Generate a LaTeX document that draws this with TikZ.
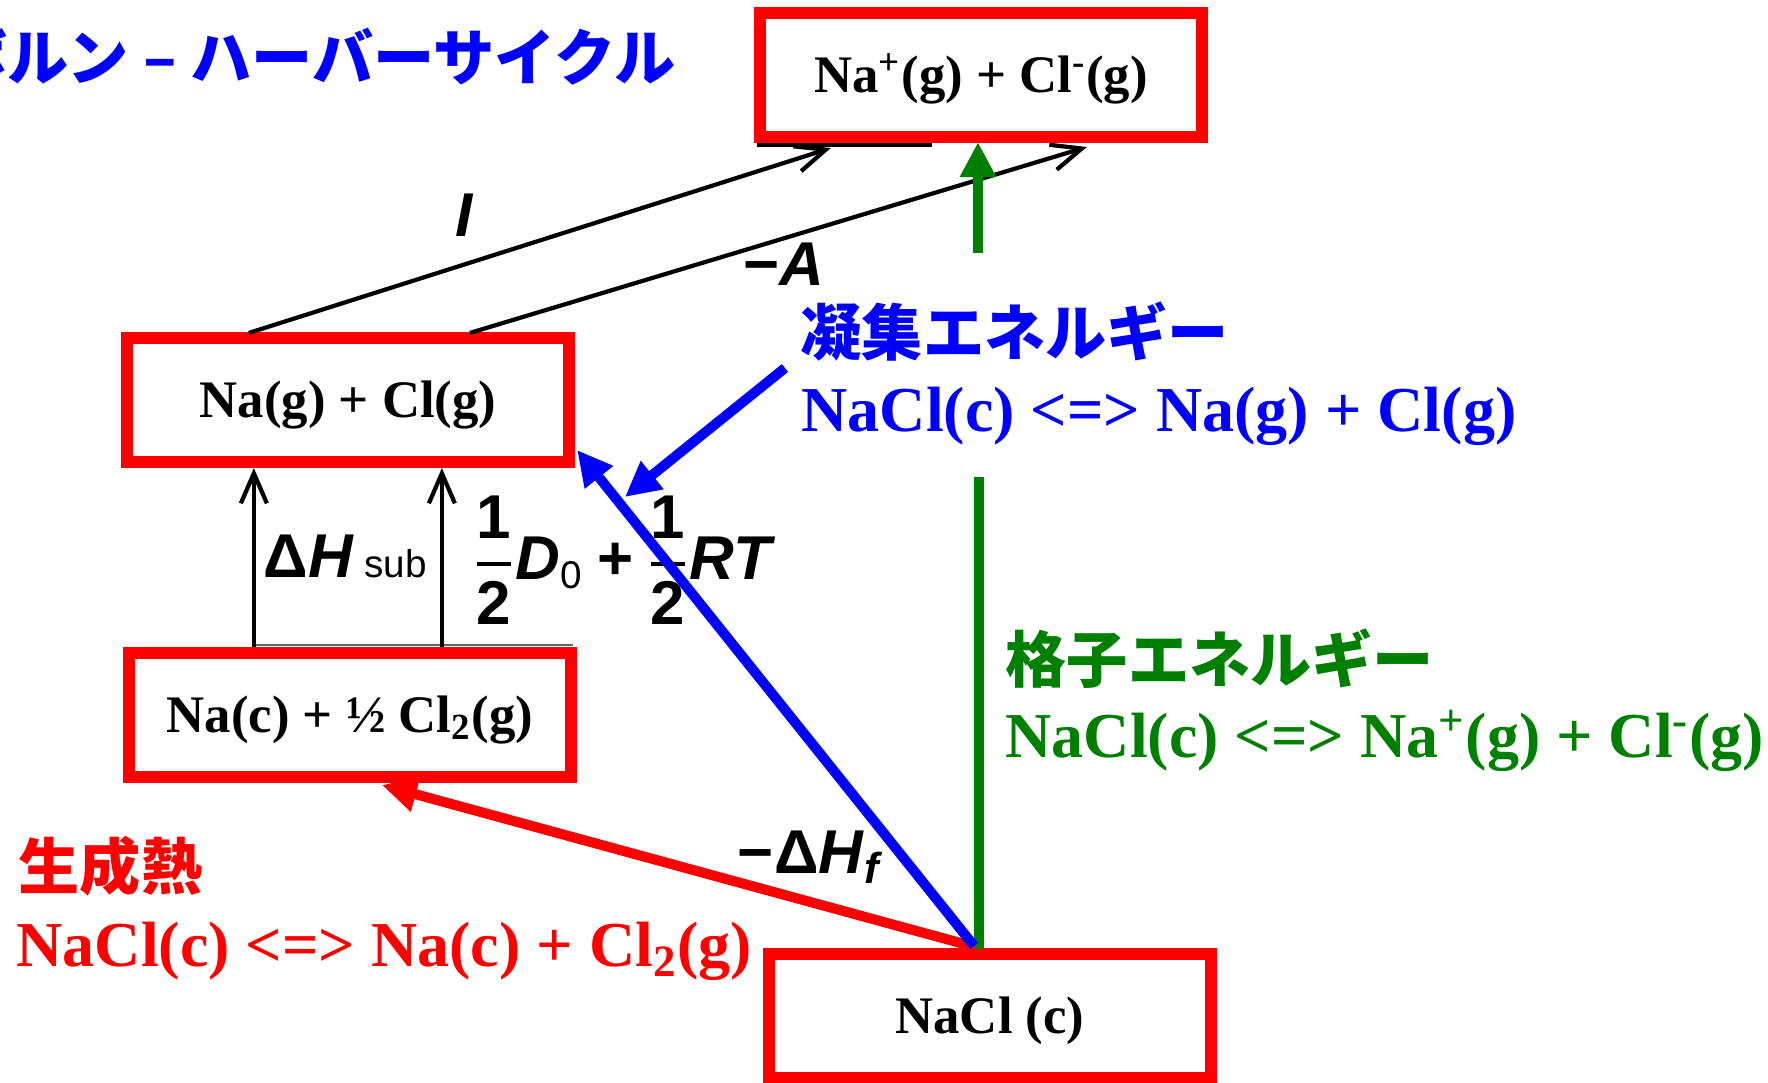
\documentclass[tikz,border=0pt]{standalone}
\usepackage{fontspec}
\setmainfont{Liberation Serif}
\newfontfamily\jpfont{Noto Sans CJK JP}
\newfontfamily\scanfont{Liberation Sans}
\usepackage{xcolor}
\usepackage{tikz}
\usetikzlibrary{arrows.meta, positioning, calc}
\definecolor{bhred}{RGB}{255,0,0}
\definecolor{bhblue}{RGB}{0,0,255}
\definecolor{bhgreen}{RGB}{0,128,0}
\newcommand{\halfof}{{\hbox{1}\above 1.4pt\hbox{2}}}
\tikzstyle{levelbox} = [rectangle, draw=bhred, fill=white, line width=3.4pt, minimum width=4.42cm, minimum height=1.24cm, inner sep=0pt, outer sep=0pt, font=\bfseries\fontsize{15}{18}\selectfont, text height=9.9pt, text depth=0pt]
\tikzstyle{jlabel} = [anchor=west, inner sep=0pt, font=\jpfont\bfseries\fontsize{17.4}{20}\selectfont]
\tikzstyle{formula} = [anchor=base west, inner sep=0pt, font=\bfseries\fontsize{18.2}{22}\selectfont]
\tikzstyle{scan} = [inner sep=0pt, font=\scanfont\bfseries\fontsize{17.6}{20}\selectfont]
\tikzstyle{scanarrow} = [line width=1.2pt, -{Straight Barb[length=3mm,width=2.6mm]}]
\tikzstyle{bigarrow} = [line width=2.85pt, -{Triangle[length=3.5mm,width=3.4mm]}]

\begin{document}
\begin{tikzpicture}[x=0.01cm, y=-0.01cm]
\useasboundingbox (0,0) rectangle (1768,1083);
\clip (0,0) rectangle (1768,1083);

\node (ion) [levelbox] at (981,75) {Na\textsuperscript{+}(g) + Cl\textsuperscript{-}(g)};
\node (gas) [levelbox] at (348,400) {Na(g) + Cl(g)};
\node (elem) [levelbox] at (350,715) {Na(c) + ½ Cl\textsubscript{2}(g)};
\node (salt) [levelbox] at (990,1016) {NaCl (c)};

\node (title) [jlabel, anchor=east, text=bhblue] at (676,57) {ボルン – ハーバーサイクル};
\node (cohname) [jlabel, text=bhblue] at (800,332) {凝集エネルギー};
\node (cohform) [formula, text=bhblue] at (801,432) {NaCl(c) <=> Na(g) + Cl(g)};
\node (latname) [jlabel, text=bhgreen] at (1005,659) {格子エネルギー};
\node (latform) [formula, text=bhgreen] at (1005,758) {NaCl(c) <=> Na\textsuperscript{+}(g) + Cl\textsuperscript{-}(g)};
\node (formname) [jlabel, text=bhred] at (18,866) {生成熱};
\node (formform) [formula, text=bhred] at (16,967) {NaCl(c) <=> Na(c) + Cl\textsubscript{2}(g)};

\node (ilab) [scan] at (464,215) {\itshape I};
\node (alab) [scan] at (784,264) {−\itshape A};
\node (sublab) [scan, anchor=west] at (263,556) {Δ\textit{H}\,{\mdseries\fontsize{11}{12}\selectfont sub}};
\node (dlab) [scan, anchor=west] at (472,560) {$\displaystyle\halfof\hbox{\itshape D}_{\hbox{\mdseries\fontsize{11}{12}\selectfont 0}}\mathbin{\hbox{+}}\halfof\hbox{\itshape RT}$};
\node (hflab) [scan] at (811,857) {−Δ\textit{H}\textsubscript{\textit{f}}};

\draw [line width=1pt] ($(ion.south west)+(-3,8)$) -- ($(ion.south west)+(172,8)$);
\draw [line width=0.6pt, black!60] ($(elem.north west)+(123,-8)$) -- ($(elem.north east)+(2,-8)$);

\draw [scanarrow] ($(gas.north west)+(122,-5)$) -- ($(ion.south west)+(71,11)$);
\draw [scanarrow] ($(gas.north west)+(343,-5)$) -- ($(ion.south west)+(327,10)$);
\draw [scanarrow] ($(elem.north west)+(125,-6)$) -- ($(gas.south west)+(127,6)$);
\draw [scanarrow] ($(elem.north west)+(313,-6)$) -- ($(gas.south west)+(315,6)$);

\draw [bhgreen, line width=2.85pt] ($(salt.north)+(-11,-5)$) -- ($(salt.north)+(-11,-477)$);
\draw [bigarrow, bhgreen] ($(ion.south)+(-3,116)$) -- ($(ion.south)+(-3,5)$);
\draw [bigarrow, bhred] ($(salt.north)+(-15,-7)$) -- ($(elem.south west)+(253,8)$);
\draw [bigarrow, bhblue] ($(salt.north)+(-16,-8)$) -- ($(gas.south east)+(8,-12)$);
\coordinate (cohtip) at (625,497);
\draw [bigarrow, bhblue] ($(cohname.west)+(-15,36)$) -- (cohtip);
\end{tikzpicture}
\end{document}
